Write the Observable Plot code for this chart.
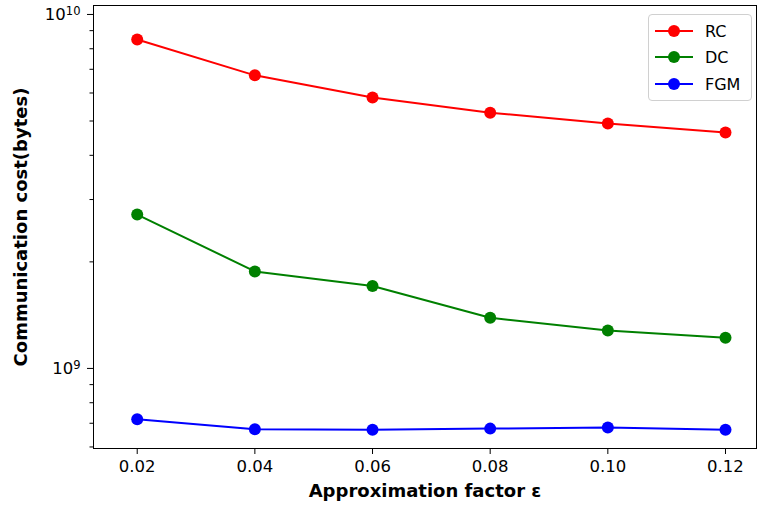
<!DOCTYPE html>
<html>
<head>
<meta charset="utf-8">
<script src="https://cdn.jsdelivr.net/npm/d3@7"></script>
<script src="https://cdn.jsdelivr.net/npm/@observablehq/plot@0.6"></script>
<style>
  body { margin: 0; background: white; }
  #wrap { position: relative; width: 757px; height: 508px; font-family: "DejaVu Sans", sans-serif; }
  #legend { position: absolute; left: 648px; top: 14px; width: 104px; height: 87px;
            border: 1px solid #d0d0d0; border-radius: 4px; background: rgba(255,255,255,0.85); box-sizing: border-box; }
  .row { position: absolute; left: 0; height: 20px; display: flex; align-items: center; font-size: 16px; color: #000; }
  .row svg { margin-left: 6px; margin-right: 12px; }
</style>
</head>
<body>
<div id="wrap"></div>
<script>
const eps = [0.02, 0.04, 0.06, 0.08, 0.10, 0.12];
const seriesNames = ["RC", "DC", "FGM"];
const seriesColors = ["#ff0000", "#008000", "#0000ff"];
const rc  = [8.5e9, 6.73e9, 5.83e9, 5.28e9, 4.92e9, 4.64e9];
const dc  = [2.72e9, 1.88e9, 1.71e9, 1.39e9, 1.28e9, 1.22e9];
const fgm = [7.18e8, 6.73e8, 6.71e8, 6.76e8, 6.81e8, 6.71e8];
const majorTicks = [1e9, 1e10];
const majorExps = ["9", "10"];
const minorTicks = [6e8, 7e8, 8e8, 9e8, 2e9, 3e9, 4e9, 5e9, 6e9, 7e9, 8e9, 9e9];
const xLabel = "Approximation factor ε";
const yLabel = "Communication cost(bytes)";

const values = [rc, dc, fgm];
const data = seriesNames.flatMap((s, i) => eps.map((e, j) => ({series: s, x: e, y: values[i][j]})));

const chart = Plot.plot({
  width: 757, height: 508,
  marginLeft: 93, marginRight: 1, marginTop: 5, marginBottom: 60,
  style: {fontFamily: "DejaVu Sans", fontSize: "16px", background: "white", color: "#000"},
  x: {domain: [0.01257, 0.12527]},
  y: {type: "log", domain: [5.94e8, 1.06e10]},
  color: {domain: seriesNames, range: seriesColors},
  marks: [
    Plot.axisX({ticks: eps, tickFormat: d => d.toFixed(2), tickSize: 6, tickPadding: 6, label: null, fontSize: 16.5}),
    Plot.axisY({ticks: majorTicks, tickFormat: d => "10^" + majorExps[majorTicks.indexOf(d)], tickSize: 6, tickPadding: 7, label: null, fontSize: 16.5}),
    Plot.axisY({ticks: minorTicks, tickFormat: () => "", tickSize: 3.5, label: null}),
    Plot.frame({stroke: "#000", strokeWidth: 1}),
    Plot.line(data, {x: "x", y: "y", z: "series", stroke: "series", strokeWidth: 2}),
    Plot.dot(data, {x: "x", y: "y", fill: "series", r: 6}),
    Plot.text([xLabel], {frameAnchor: "bottom", dy: 48, fontWeight: "bold", fontSize: 18, textAnchor: "middle"}),
    Plot.text([yLabel], {frameAnchor: "left", dx: -72, rotate: -90, fontWeight: "bold", fontSize: 18, textAnchor: "middle"})
  ]
});
// render exponents of the log tick labels as superscripts
d3.select(chart).selectAll("text").each(function() {
  const t = this.textContent;
  if (t.startsWith("10^")) {
    const exp = t.slice(3);
    const sel = d3.select(this);
    sel.text("");
    sel.append("tspan").text("10");
    sel.append("tspan").attr("dy", "-0.45em").attr("font-size", "70%").text(exp);
  }
});
const wrap = document.getElementById("wrap");
wrap.appendChild(chart);

const legend = document.createElement("div");
legend.id = "legend";
const rowTops = [6, 32, 59];
seriesNames.forEach((s, i) => {
  const row = document.createElement("div");
  row.className = "row";
  row.style.top = rowTops[i] + "px";
  row.innerHTML = `<svg width="38" height="14"><line x1="0" y1="7" x2="38" y2="7" stroke="${seriesColors[i]}" stroke-width="2"/><circle cx="19" cy="7" r="6" fill="${seriesColors[i]}"/></svg><span>${s}</span>`;
  legend.appendChild(row);
});
wrap.appendChild(legend);
</script>
</body>
</html>
